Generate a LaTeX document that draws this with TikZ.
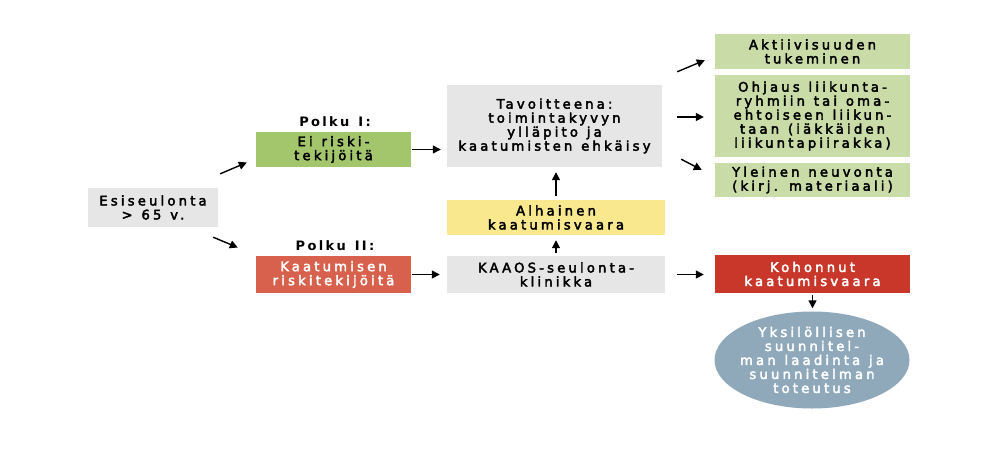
\documentclass[tikz,border=0pt]{standalone}
\usepackage{fontspec}
\setmainfont{DejaVu Sans}[LetterSpace=24, FakeBold=3, WordSpace=1.2]
\newfontfamily\lblfont{DejaVu Sans}[LetterSpace=18, WordSpace=1.3]
\usetikzlibrary{arrows.meta,calc,shapes.geometric}
\definecolor{boxgrey}{HTML}{E6E6E6}
\definecolor{greenA}{HTML}{A3C56B}
\definecolor{greenB}{HTML}{C9DCA8}
\definecolor{yellowA}{HTML}{F9E88E}
\definecolor{redA}{HTML}{D8614D}
\definecolor{redB}{HTML}{C8372A}
\definecolor{blueA}{HTML}{8FA9BA}
\tikzset{
  box/.style={rectangle, inner sep=0pt, align=center, font=\fontsize{13.2}{14}\selectfont},
  lbl/.style={inner sep=0pt, font=\lblfont\fontsize{13}{14}\selectfont\bfseries},
  arr/.style={-{Triangle[length=8pt,width=8pt]}, line width=1.4pt},
}
\begin{document}
\begin{tikzpicture}[x=1pt,y=-1pt]
\useasboundingbox (0,0) rectangle (993,448);
\fill[white] (0,0) rectangle (993,448);
\node[box, fill=boxgrey, minimum width=130pt, minimum height=39pt] (esi) at (153,207.5) {Esiseulonta\\> 65 v.};
\node[box, fill=greenA, minimum width=155pt, minimum height=35pt] (ei) at (333.5,149.5) {Ei riski-\\tekijöitä};
\node[box, fill=redA, text=white, minimum width=155pt, minimum height=37pt] (kaa) at (333.5,274.5) {Kaatumisen\\riskitekijöitä};
\node[lbl] (p1) at (335,122) {Polku I:};
\node[lbl] (p2) at (335,246) {Polku II:};
\node[box, fill=boxgrey, minimum width=215pt, minimum height=82pt] (tav) at (554.5,126) {Tavoitteena:\\toimintakyvyn\\ylläpito ja\\kaatumisten ehkäisy};
\node[box, fill=yellowA, minimum width=218pt, minimum height=35pt] (alh) at (556,217.5) {Alhainen\\kaatumisvaara};
\node[box, fill=boxgrey, minimum width=218pt, minimum height=37pt] (kaaos) at (556,274.5) {KAAOS-seulonta-\\klinikka};
\node[box, fill=greenB, minimum width=195pt, minimum height=35pt] (akt) at (812.5,51.5) {Aktiivisuuden\\tukeminen};
\node[box, fill=greenB, minimum width=195pt, minimum height=82pt] (ohj) at (812.5,116) {Ohjaus liikunta-\\ryhmiin tai oma-\\ehtoiseen liikun-\\taan (iäkkäiden\\liikuntapiirakka)};
\node[box, fill=greenB, minimum width=195pt, minimum height=34pt] (yle) at (812.5,180) {Yleinen neuvonta\\(kirj. materiaali)};
\node[box, fill=redB, text=white, minimum width=195pt, minimum height=38pt] (koh) at (812.5,274) {Kohonnut\\kaatumisvaara};
\node[ellipse, inner sep=0pt, fill=blueA, minimum width=195pt, minimum height=97pt] (yks) at (812,360) {};
\node[box, text=white] (ykstext) at (yks.center) {Yksilöllisen\\suunnitel-\\man laadinta ja\\suunnitelman\\toteutus};
\draw[arr] ($(esi.north east)+(2,-14)$) -- ($(ei.west)+(-9,13)$);
\draw[arr] ($(esi.south east)+(-5,10)$) -- ($(kaa.west)+(-18,-27)$);
\draw[arr, shorten <=1pt, shorten >=6pt] (ei.east) -- (ei.east -| tav.west);
\draw[arr, shorten <=1pt, shorten >=7pt] (kaa.east) -- (kaa.east -| kaaos.west);
\draw[arr, shorten <=3pt, shorten >=5pt] (kaaos.north) -- (alh.south);
\draw[arr, shorten <=4pt, shorten >=5pt] (alh.north) -- (alh.north |- tav.south);
\draw[arr] ($(tav.north east)+(15,-13)$) -- ($(akt.south west)+(-10,-9)$);
\draw[arr] ($(tav.east)+(15,-9)$) -- ($(ohj.west)+(-11,1)$);
\draw[arr] ($(tav.south east)+(19,-8)$) -- ($(yle.west)+(-13,-10)$);
\draw[arr, shorten <=12pt, shorten >=11pt] (kaaos.east) -- (kaaos.east -| koh.west);
\draw[arr, shorten <=2pt, shorten >=3pt] (koh.south) -- (koh.south |- yks.north);
\end{tikzpicture}
\end{document}
